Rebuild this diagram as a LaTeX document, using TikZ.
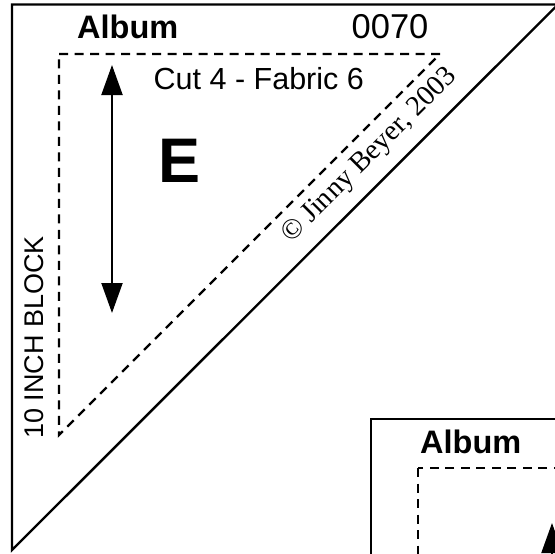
\documentclass[tikz,border=0pt]{standalone}
\usepackage{fontspec}
\setmainfont{Liberation Sans}
\newfontfamily\timesfont{Liberation Serif}
\usetikzlibrary{arrows.meta}

\begin{document}
\begin{tikzpicture}[x=1pt,y=-1pt,
    cutline/.style={line width=2.4pt,dash pattern=on 9pt off 6.5pt},
    edgeline/.style={line width=2.4pt},
    grain/.style={line width=2pt,{Triangle[length=30pt,width=21pt]}-{Triangle[length=30pt,width=21pt]}},
    label/.style={inner sep=0pt,anchor=base west}]
                        \useasboundingbox (0,0) rectangle (555,554);
                        \clip (0,0) rectangle (555,554);
                        % first patch
                        \coordinate (tl) at (12,4.5);
                        \coordinate (tr) at (558,4.5);
                        \coordinate (bl) at (12,550);
                        \draw[edgeline] (tl) -- (tr) -- (bl) -- cycle;
                        \coordinate (ctl) at (59,54);
                        \coordinate (ctr) at (440,54);
                        \coordinate (cbl) at (59,435);
                        \draw[cutline] (ctl) -- (ctr) -- (cbl) -- cycle;
                        \coordinate (up) at (112,65);
                        \coordinate (down) at (112,313);
                        \draw[grain] (down) -- (up);
                        \node (album) at (77,38) [label,font=\bfseries\fontsize{32.5}{32.5}\selectfont] {Album};
                        \node (num) at (351.5,38) [label,font=\fontsize{34.5}{34.5}\selectfont] {0070};
                        \node (cut) at (153.5,89) [label,font=\fontsize{30.5}{30.5}\selectfont] {Cut 4 - Fabric 6};
                        \node (letter) at (158,182) [label,font=\bfseries\fontsize{63}{63}\selectfont] {E};
                        \node (block) at (43,439) [label,rotate=90,font=\fontsize{27}{27}\selectfont] {10 INCH BLOCK};
                        \node (copy) at (291,244) [label,rotate=45,font=\timesfont\fontsize{28.5}{28.5}\selectfont] {© Jinny Beyer, 2003};
                        % second patch
                        \coordinate (ntl) at (371,419);
                        \draw[edgeline] (ntl) rectangle (700,700);
                        \coordinate (nctl) at (418,468);
                        \draw[cutline] (nctl) rectangle (700,700);
                        \node (nalbum) at (420,453) [label,font=\bfseries\fontsize{32.5}{32.5}\selectfont] {Album};
                        \coordinate (nup) at (552,523);
                        \coordinate (ndown) at (552,700);
                        \draw[grain] (ndown) -- (nup);
                \end{tikzpicture}
\end{document}
